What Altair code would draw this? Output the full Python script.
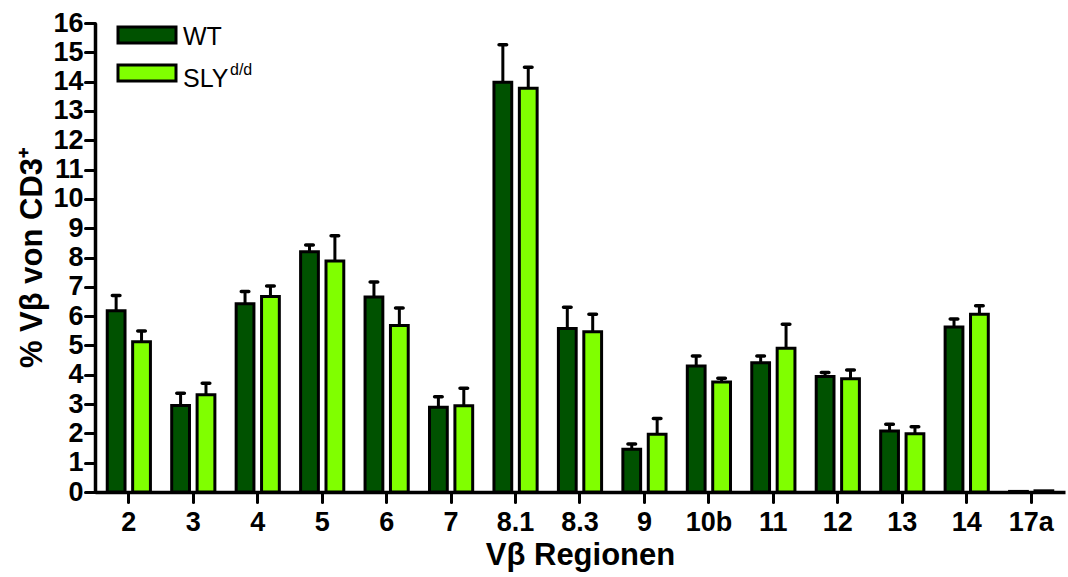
import altair as alt
import pandas as pd

categories = ["2", "3", "4", "5", "6", "7", "8.1", "8.3", "9", "10b", "11", "12", "13", "14", "17a"]
wt_values = [6.18, 2.95, 6.42, 8.20, 6.65, 2.89, 13.98, 5.58, 1.46, 4.30, 4.41, 3.94, 2.08, 5.63, 0.02]
wt_errors = [0.52, 0.42, 0.42, 0.23, 0.51, 0.36, 1.28, 0.72, 0.18, 0.34, 0.23, 0.14, 0.23, 0.27, 0.0]
sly_values = [5.13, 3.32, 6.67, 7.88, 5.68, 2.94, 13.77, 5.47, 1.97, 3.75, 4.90, 3.86, 1.99, 6.06, 0.04]
sly_errors = [0.36, 0.39, 0.36, 0.86, 0.60, 0.60, 0.72, 0.59, 0.54, 0.13, 0.82, 0.30, 0.24, 0.29, 0.0]
groups = ["WT", "SLY"]
colors = ["#005200", "#80FF00"]
y_ticks = list(range(0, 17))

rows = []
for i, c in enumerate(categories):
    rows.append({"cat": c, "group": "WT", "value": wt_values[i], "err": wt_errors[i],
                 "top": wt_values[i] + wt_errors[i]})
    rows.append({"cat": c, "group": "SLY", "value": sly_values[i], "err": sly_errors[i],
                 "top": sly_values[i] + sly_errors[i]})
df = pd.DataFrame(rows)

FONT = "Liberation Sans"

x_axis = alt.Axis(title="Vβ Regionen", labelAngle=0, labelFont=FONT, labelFontSize=27,
                  labelFontWeight="bold", labelColor="black", labelPadding=7,
                  labelOverlap=False,
                  tickSize=10, tickWidth=3, tickColor="black", tickCap="round",
                  domainWidth=3.5, domainColor="black",
                  titleFont=FONT, titleFontSize=31, titleFontWeight="bold",
                  titleColor="black", titlePadding=5)
x_scale = alt.Scale(paddingInner=0.33, paddingOuter=0.19)
x_enc = alt.X("cat:N", sort=categories, scale=x_scale, axis=x_axis)
xo_enc = alt.XOffset("group:N", sort=groups, scale=alt.Scale(paddingInner=0.3))
y_scale = alt.Scale(domain=[0, 16], nice=False)
y_axis = alt.Axis(title="% Vβ von CD3⁺", values=y_ticks, grid=False, labelFont=FONT,
                  labelFontSize=27, labelFontWeight="bold", labelColor="black", labelPadding=2,
                  labelOverlap=False,
                  tickSize=10, tickWidth=3, tickColor="black", tickCap="round",
                  domainWidth=3.5, domainColor="black",
                  titleFont=FONT, titleFontSize=31, titleFontWeight="bold", titleColor="black",
                  titlePadding=4)

bars = alt.Chart(df).mark_bar(stroke="black", strokeWidth=3).encode(
    x=x_enc,
    xOffset=xo_enc,
    y=alt.Y("value:Q", scale=y_scale, axis=y_axis),
    fill=alt.Fill("group:N", scale=alt.Scale(domain=groups, range=colors), legend=None),
)

err_df = df[df["err"] > 0]
err_rules = alt.Chart(err_df).mark_rule(color="black", strokeWidth=3).encode(
    x=x_enc,
    xOffset=xo_enc,
    y=alt.Y("value:Q", scale=y_scale, axis=y_axis),
    y2="top:Q",
)
err_caps = alt.Chart(err_df).mark_tick(color="black", size=11, thickness=3.5,
                                       cornerRadius=2, opacity=1).encode(
    x=x_enc,
    xOffset=xo_enc,
    y=alt.Y("top:Q", scale=y_scale, axis=y_axis),
)

one = pd.DataFrame({"k": [0]})
leg_wt = alt.Chart(one).mark_rect(fill=colors[0], stroke="black", strokeWidth=3).encode(
    x=alt.value(23), x2=alt.value(81), y=alt.value(4), y2=alt.value(20))
leg_sly = alt.Chart(one).mark_rect(fill=colors[1], stroke="black", strokeWidth=3).encode(
    x=alt.value(23), x2=alt.value(81), y=alt.value(42), y2=alt.value(58))
txt_wt = alt.Chart(one).mark_text(text="WT", font=FONT, fontSize=25, align="left",
                                  baseline="alphabetic", color="black").encode(
    x=alt.value(88), y=alt.value(22))
txt_sly = alt.Chart(one).mark_text(text="SLY", font=FONT, fontSize=25, align="left",
                                   baseline="alphabetic", color="black").encode(
    x=alt.value(88), y=alt.value(64))
txt_sup = alt.Chart(one).mark_text(text="d/d", font=FONT, fontSize=16, align="left",
                                   baseline="alphabetic", color="black").encode(
    x=alt.value(135), y=alt.value(52))

chart = alt.layer(bars, err_rules, err_caps, leg_wt, leg_sly, txt_wt, txt_sly, txt_sup).properties(
    width=970, height=469,
    autosize=alt.AutoSizeParams(type="none"),
    padding={"left": 95, "top": 23, "right": 3, "bottom": 85},
    background="white",
).configure_view(stroke=None)

chart.save("out.html", embed_options={"renderer": "svg", "actions": False})
